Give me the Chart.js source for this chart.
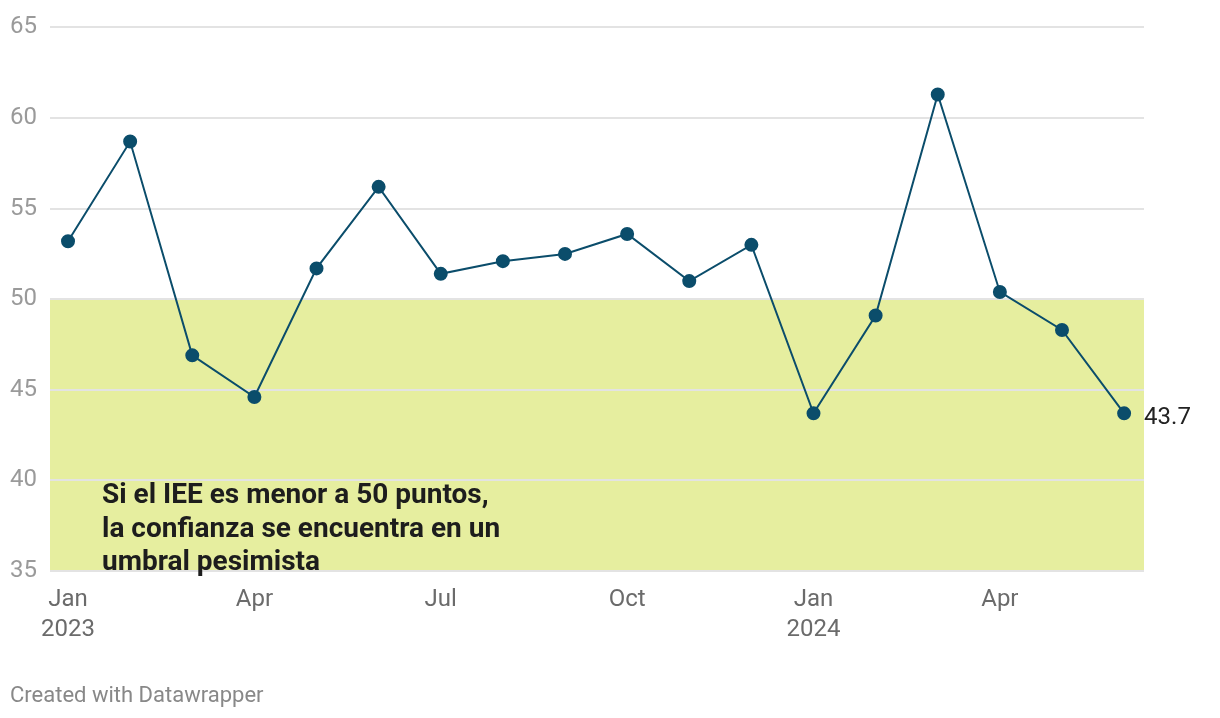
<!DOCTYPE html>
<html>
<head>
<meta charset="utf-8">
<script src="https://cdn.jsdelivr.net/npm/chart.js@4.4.1/dist/chart.umd.min.js"></script>
<style>
  html, body { margin: 0; padding: 0; background: #fff; }
  #wrap { width: 1220px; height: 718px; position: relative; }
</style>
</head>
<body>
<div id="wrap"><canvas id="ieeChart" width="1220" height="718"></canvas></div>
<script>
// --- datos ---
const months = ['Jan 2023', 'Feb 2023', 'Mar 2023', 'Apr 2023', 'May 2023', 'Jun 2023',
                'Jul 2023', 'Aug 2023', 'Sep 2023', 'Oct 2023', 'Nov 2023', 'Dec 2023',
                'Jan 2024', 'Feb 2024', 'Mar 2024', 'Apr 2024', 'May 2024', 'Jun 2024'];
const ieeValues = [53.2, 58.7, 46.9, 44.6, 51.7, 56.2, 51.4, 52.1, 52.5, 53.6, 51.0, 53.0,
                   43.7, 49.1, 61.3, 50.4, 48.3, 43.7];
const xTickLabels = { 0: ['Jan', '2023'], 3: ['Apr'], 6: ['Jul'], 9: ['Oct'], 12: ['Jan', '2024'], 15: ['Apr'] };
const yTicks = [35, 40, 45, 50, 55, 60, 65];
const pessimistRange = [35, 50];
const noteLines = ['Si el IEE es menor a 50 puntos,', 'la confianza se encuentra en un', 'umbral pesimista'];

const FONT = 'Roboto, "Noto Sans", sans-serif';

// banda verde bajo 50 puntos
const bandPlugin = {
    id: 'band',
    beforeDraw(chart) {
        const { ctx, chartArea, scales } = chart;
        const yTop = scales.y.getPixelForValue(pessimistRange[1]);
        const yBot = scales.y.getPixelForValue(pessimistRange[0]);
        ctx.save();
        ctx.fillStyle = '#e6ee9f';
        ctx.fillRect(chartArea.left, yTop, chartArea.right - chartArea.left, yBot - yTop);
        ctx.restore();
    }
};

// nota, etiqueta del último valor y pie
const textPlugin = {
    id: 'texts',
    afterDraw(chart) {
        const { ctx, scales } = chart;
        ctx.save();
        ctx.textBaseline = 'middle';
        ctx.textAlign = 'left';

        ctx.font = 'bold 28px ' + FONT;
        ctx.fillStyle = '#1d1d1d';
        noteLines.forEach((line, i) => ctx.fillText(line, 102, 496 + i * 33.5));

        const last = ieeValues.length - 1;
        ctx.font = '24px ' + FONT;
        ctx.fillStyle = '#222';
        ctx.fillText(ieeValues[last].toFixed(1),
            scales.x.getPixelForValue(last) + 20, scales.y.getPixelForValue(ieeValues[last]) + 5);

        ctx.font = '22px ' + FONT;
        ctx.fillStyle = '#888';
        ctx.fillText('Created with Datawrapper', 10, 696);
        ctx.restore();
    }
};

new Chart(document.getElementById('ieeChart').getContext('2d'), {
    type: 'line',
    data: {
        datasets: [{
            label: 'IEE',
            data: ieeValues.map((v, i) => ({ x: i, y: v })),
            borderColor: '#0b4d6b',
            backgroundColor: '#0b4d6b',
            borderWidth: 2,
            pointRadius: 6,
            pointHoverRadius: 6,
            tension: 0
        }]
    },
    options: {
        responsive: false,
        animation: false,
        layout: { padding: { left: 0, right: 76, top: 22, bottom: 77 } },
        plugins: { legend: { display: false }, tooltip: { enabled: false } },
        scales: {
            x: {
                type: 'linear',
                min: -0.29,
                max: 17.32,
                afterFit: s => { s.height = 70; },
                afterBuildTicks: s => { s.ticks = Object.keys(xTickLabels).map(k => ({ value: +k })); },
                grid: { display: false, drawTicks: false },
                border: { display: false },
                ticks: {
                    padding: 14,
                    color: '#6b6b6b',
                    font: { family: FONT, size: 24, lineHeight: 1.25 },
                    maxRotation: 0,
                    autoSkip: false,
                    callback: v => xTickLabels[v] || ''
                }
            },
            y: {
                min: 35,
                max: 65,
                afterFit: s => { s.width = 50; },
                afterBuildTicks: s => { s.ticks = yTicks.map(v => ({ value: v })); },
                grid: { color: '#e3e3e3', lineWidth: 2, drawTicks: false },
                border: { display: false },
                ticks: {
                    padding: 13,
                    color: '#9a9a9a',
                    font: { family: FONT, size: 24 }
                }
            }
        }
    },
    plugins: [bandPlugin, textPlugin]
});
</script>
</body>
</html>
